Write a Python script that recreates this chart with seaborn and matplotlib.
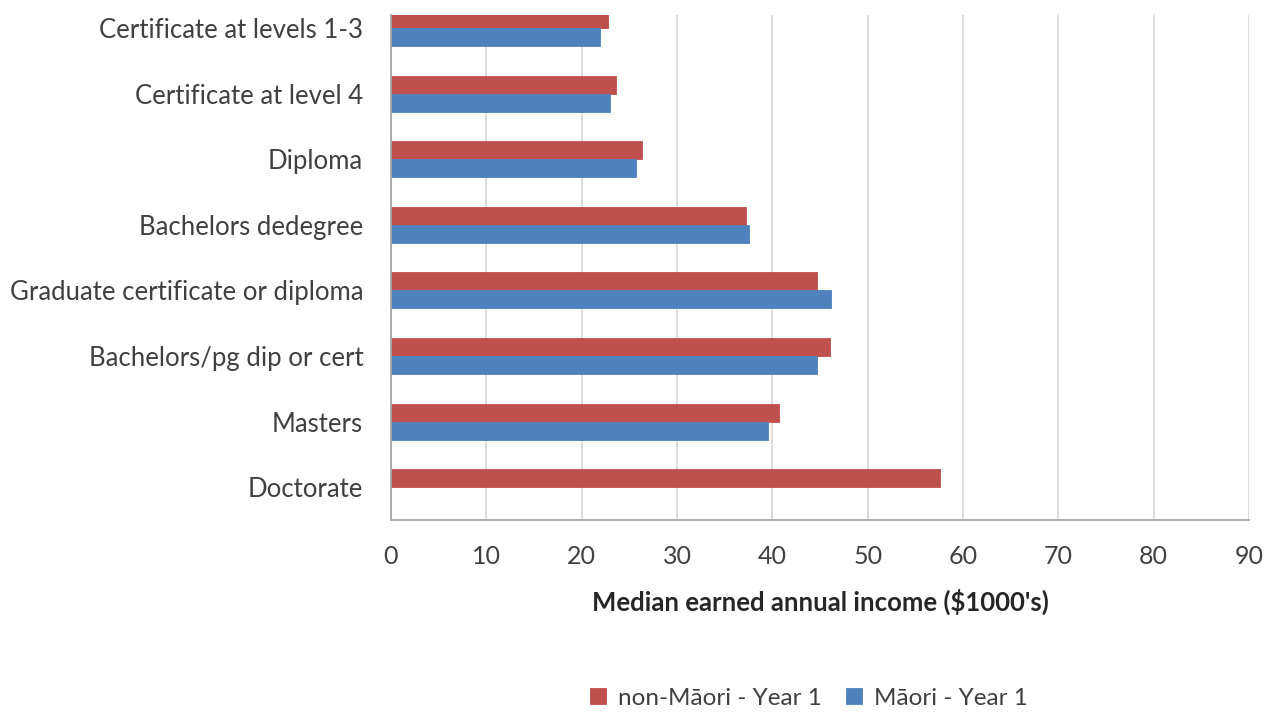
import matplotlib
matplotlib.use("Agg")
import matplotlib.pyplot as plt
import numpy as np
import pandas as pd
import seaborn as sns

categories = [
    "Certificate at levels 1-3",
    "Certificate at level 4",
    "Diploma",
    "Bachelors dedegree",
    "Graduate certificate or diploma",
    "Bachelors/pg dip or cert",
    "Masters",
    "Doctorate",
]
non_maori = [22.8, 23.6, 26.3, 37.2, 44.7, 46.1, 40.7, 57.6]
maori = [21.9, 23.0, 25.7, 37.5, 46.2, 44.7, 39.5, np.nan]
series_names = ["non-Māori - Year 1", "Māori - Year 1"]
x_ticks = list(range(0, 100, 10))

df = pd.DataFrame({
    "Qualification": categories * 2,
    "Income": non_maori + maori,
    "Group": [series_names[0]] * len(categories) + [series_names[1]] * len(categories),
})

sns.set_theme(style="white")
plt.rcParams["font.family"] = ["Lato", "DejaVu Sans"]

RED = "#C0504D"
BLUE = "#4F81BD"
TEXT = "#404040"

fig = plt.figure(figsize=(12.74, 7.13), dpi=100)
ax = fig.add_axes([0.3069, 0.2707, 0.9804 - 0.3069, 0.979 - 0.2707])

sns.barplot(
    data=df, y="Qualification", x="Income", hue="Group",
    order=categories, hue_order=series_names,
    palette=[RED, BLUE], orient="h", width=0.55,
    saturation=1, ax=ax, legend=True,
)
for p in ax.patches:
    p.set_edgecolor(p.get_facecolor())
    p.set_linewidth(0.6)

ax.set_xlim(0, 90)
ax.set_ylim(7.5, -0.2)
ax.set_xticks(x_ticks)
ax.xaxis.grid(True, color="#D9D9D9", linewidth=1.3)
ax.set_axisbelow(True)

for side in ["top", "right"]:
    ax.spines[side].set_visible(False)
for side in ["left", "bottom"]:
    ax.spines[side].set_color("#A6A6A6")
    ax.spines[side].set_linewidth(1.3)

ax.tick_params(axis="y", which="major", length=0, pad=20,
               labelsize=18.5, labelcolor=TEXT)
ax.set_yticks(np.arange(0.5, 7.5, 1.0), minor=True)
ax.tick_params(axis="y", which="minor", length=5, width=1.3,
               color="#A6A6A6", direction="out")
ax.tick_params(axis="x", which="major", length=5, width=1.3,
               color="#A6A6A6", direction="out", pad=13,
               labelsize=18, labelcolor=TEXT)

ax.set_ylabel("")
ax.set_xlabel("Median earned annual income ($1000's)", fontsize=18.5,
              fontweight="bold", color="#262626", labelpad=15)

ax.legend(
    loc="center", bbox_to_anchor=(0.635, 0.021), bbox_transform=fig.transFigure,
    ncol=2, frameon=False, fontsize=17.5, handlelength=0.65, handleheight=0.65,
    handletextpad=0.5, columnspacing=1.0, labelcolor=TEXT,
)

fig.savefig("out.png", dpi=100, facecolor="white")
